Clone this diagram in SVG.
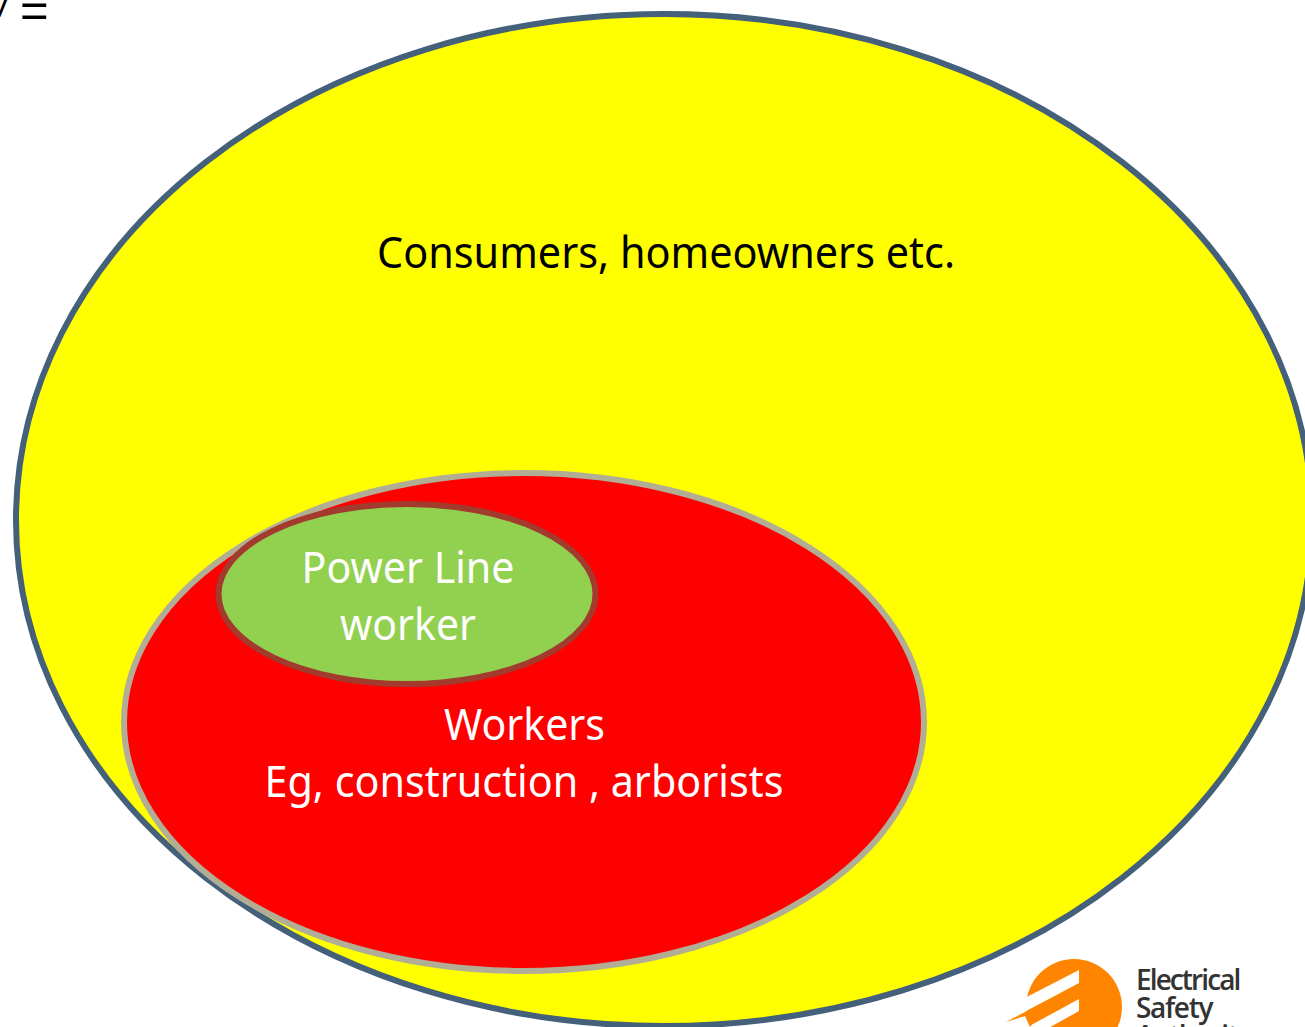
<svg xmlns="http://www.w3.org/2000/svg" width="1305" height="1027" viewBox="0 0 1305 1027">
<style>
.l{font-family:"Noto Sans","Open Sans","Liberation Sans",sans-serif;font-size:43px;text-anchor:middle}
.w{fill:#fff}
.k{fill:#000}
.b{font-family:"Open Sans","Liberation Sans",sans-serif;font-weight:600;font-size:28px;fill:#333}
</style>
<rect width="1305" height="1027" fill="#fff"/>
<g id="header"><text x="-12" y="17" font-family="Liberation Sans, sans-serif" font-size="32" fill="#000">V</text><text x="20" y="27" font-family="Liberation Sans, sans-serif" font-size="49" fill="#000">=</text></g>
<g id="consumers"><ellipse cx="664" cy="520" rx="648" ry="506" fill="#ffff00" stroke="#44607a" stroke-width="6"/>
<text class="l k" x="666" y="268" textLength="578" lengthAdjust="spacingAndGlyphs">Consumers, homeowners etc.</text></g>
<g id="workers"><ellipse cx="524" cy="722" rx="400" ry="249" fill="#ff0000" stroke="#b2ae96" stroke-width="6"/>
<text class="l w" x="524.500" y="739.500" textLength="161" lengthAdjust="spacingAndGlyphs">Workers</text>
<text class="l w" x="524" y="796.500" textLength="519" lengthAdjust="spacingAndGlyphs">Eg, construction , arborists</text></g>
<g id="power-line-worker"><ellipse cx="407" cy="594" rx="188.500" ry="90" fill="#92d050" stroke="#a23a2e" stroke-width="6"/>
<text class="l w" x="408" y="582.500" textLength="213" lengthAdjust="spacingAndGlyphs">Power Line</text>
<text class="l w" x="408" y="639.500" textLength="136" lengthAdjust="spacingAndGlyphs">worker</text></g>
<g id="logo">
<circle cx="1074" cy="1007" r="48" fill="#ff8500"/>
<polygon points="1079,970 1079,983 1015,1017 1015,1003" fill="#fff"/>
<polygon points="1079,999 1079,1011 1045,1030 1022,1030" fill="#fff"/>
<polygon points="1006,1022 1040,1004 1040,1012 1030,1027 1025,1016" fill="#ff8500"/>
<text class="b" x="1136" y="990" letter-spacing="-1.900">Electrical</text>
<text class="b" x="1136" y="1018" letter-spacing="-1.300">Safety</text>
<text class="b" x="1136" y="1046" letter-spacing="-1.500">Authority</text>
</g>
<g id="connectors"/>
</svg>
